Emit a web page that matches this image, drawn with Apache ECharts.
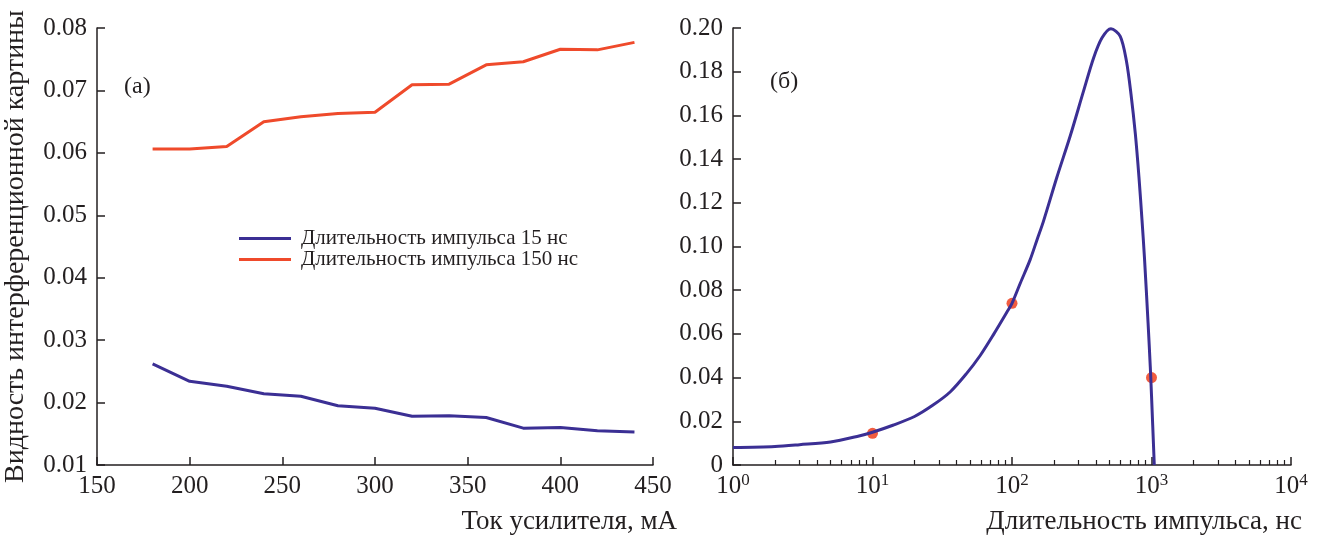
<!DOCTYPE html>
<html>
<head>
<meta charset="utf-8">
<script src="https://cdn.jsdelivr.net/npm/echarts@6/dist/echarts.min.js"></script>
<style>
  html, body { margin: 0; padding: 0; background: #fff; }
  #main { width: 1320px; height: 535px; }
</style>
</head>
<body>
<div id="main"></div>
<script>
// (а) ток усилителя, мА
var currents = [180, 200, 220, 240, 260, 280, 300, 320, 340, 360, 380, 400, 420, 440];
var vis15 = [0.0262, 0.0234, 0.0226, 0.0214, 0.0210, 0.0195, 0.0191, 0.0178, 0.0179, 0.0176, 0.0159, 0.0160, 0.0155, 0.0153];
var vis150 = [0.0606, 0.0606, 0.0610, 0.0650, 0.0658, 0.0663, 0.0665, 0.0709, 0.0710, 0.0741, 0.0746, 0.0766, 0.0765, 0.0777];
var legendNames = ['Длительность импульса 15 нс', 'Длительность импульса 150 нс'];

// (б) длительность импульса, нс
var pulseX = [1, 2, 3, 5, 8, 10, 14, 20, 27, 36, 47, 59, 74, 92, 100, 115, 135, 151, 168, 210, 262, 326, 385, 442, 512, 597, 661, 713, 766, 813, 855, 890, 945, 980, 1000, 1047];
var pulseY = [0.0080, 0.0085, 0.0093, 0.0105, 0.0133, 0.0150, 0.0182, 0.0222, 0.0273, 0.0334, 0.0417, 0.0500, 0.0599, 0.0700, 0.0740, 0.0834, 0.0940, 0.1030, 0.1115, 0.1318, 0.1508, 0.1712, 0.1864, 0.1955, 0.1997, 0.1962, 0.1849, 0.1697, 0.1515, 0.1318, 0.1121, 0.0950, 0.0650, 0.0450, 0.0320, 0];
var measX = [10, 100, 1000];
var measY = [0.0145, 0.0740, 0.0400];

var decadeLabels = ['0', '1', '2', '3', '4'];

var FONT = 'Liberation Serif';
var INK = '#231f20';
var BLUE = '#3b2f94';
var RED = '#ef4a2b';

// мелкие деления логарифмической оси: 2..9 в каждой декаде
var minorTicks = [];
for (var d = 1; d <= 1000; d *= 10) {
    for (var k = 2; k <= 9; k++) minorTicks.push(k * d);
}

function zip(a, b) {
    return a.map(function (v, i) { return [v, b[i]]; });
}

var axisLineStyle = { lineStyle: { color: INK, width: 1.5 } };
var tickStyle = { inside: true, length: 8, lineStyle: { color: INK, width: 1.5 } };
var labelStyle = { color: INK, fontFamily: FONT, fontSize: 25 };
var nameStyle = { color: INK, fontFamily: FONT, fontSize: 27, align: 'right', verticalAlign: 'top', padding: [43, 0, 0, 0] };

var myChart = echarts.init(document.getElementById('main'));
myChart.setOption({
    animation: false,
    textStyle: { fontFamily: FONT, color: INK },
    grid: [
        { left: 97, width: 556, top: 28, bottom: 67 },
        { left: 733, right: 29, top: 28, bottom: 67 }
    ],
    legend: {
        orient: 'vertical',
        left: 234,
        top: 223,
        icon: 'rect',
        itemWidth: 52,
        itemHeight: 3,
        itemGap: 0,
        data: legendNames,
        textStyle: { color: INK, fontFamily: FONT, fontSize: 21, padding: [0, 0, 0, 5] }
    },
    graphic: [
        { type: 'text', left: 124, top: 75, style: { text: '(a)', font: '24px "Liberation Serif"', fill: INK } },
        { type: 'text', left: 770, top: 70, style: { text: '(б)', font: '24px "Liberation Serif"', fill: INK } }
    ],
    xAxis: [
        {
            type: 'value', gridIndex: 0,
            min: 150, max: 450, interval: 50,
            name: 'Ток усилителя, мА',
            nameLocation: 'end', nameGap: 24,
            nameTextStyle: nameStyle,
            axisLine: axisLineStyle,
            axisTick: tickStyle,
            axisLabel: Object.assign({ margin: 9 }, labelStyle),
            splitLine: { show: false }
        },
        {
            type: 'log', gridIndex: 1, logBase: 10,
            min: 1, max: 10000,
            name: 'Длительность импульса, нс',
            nameLocation: 'end', nameGap: 11,
            nameTextStyle: nameStyle,
            axisLine: axisLineStyle,
            axisTick: tickStyle,
            axisLabel: {
                margin: 7,
                formatter: function (v) {
                    return '{b|10}{s|' + decadeLabels[Math.round(Math.log10(v))] + '}';
                },
                rich: {
                    b: { fontFamily: FONT, fontSize: 25, color: INK, lineHeight: 28 },
                    s: { fontFamily: FONT, fontSize: 17, color: INK, lineHeight: 18, verticalAlign: 'top' }
                }
            },
            splitLine: { show: false }
        },
        {
            // только мелкие деления
            type: 'log', gridIndex: 1, logBase: 10, position: 'bottom',
            min: 1, max: 10000,
            axisLine: { show: false },
            axisTick: { inside: true, length: 5, customValues: minorTicks, lineStyle: { color: INK, width: 1.2 } },
            axisLabel: { show: false },
            splitLine: { show: false }
        }
    ],
    yAxis: [
        {
            type: 'value', gridIndex: 0,
            min: 0.01, max: 0.08, interval: 0.01,
            name: 'Видность интерференционной картины',
            nameLocation: 'middle', nameGap: 67,
            nameTextStyle: { color: INK, fontFamily: FONT, fontSize: 28 },
            axisLine: axisLineStyle,
            axisTick: tickStyle,
            axisLabel: Object.assign({ margin: 10, formatter: function (v) { return v.toFixed(2); } }, labelStyle),
            splitLine: { show: false }
        },
        {
            type: 'value', gridIndex: 1,
            min: 0, max: 0.2, interval: 0.02,
            axisLine: axisLineStyle,
            axisTick: tickStyle,
            axisLabel: Object.assign({ margin: 10, formatter: function (v) { return v === 0 ? '0' : v.toFixed(2); } }, labelStyle),
            splitLine: { show: false }
        }
    ],
    series: [
        {
            name: legendNames[0], type: 'line', xAxisIndex: 0, yAxisIndex: 0,
            data: zip(currents, vis15),
            showSymbol: false, symbol: 'none',
            lineStyle: { color: BLUE, width: 3 }, itemStyle: { color: BLUE }
        },
        {
            name: legendNames[1], type: 'line', xAxisIndex: 0, yAxisIndex: 0,
            data: zip(currents, vis150),
            showSymbol: false, symbol: 'none',
            lineStyle: { color: RED, width: 3 }, itemStyle: { color: RED }
        },
        {
            type: 'scatter', xAxisIndex: 1, yAxisIndex: 1,
            data: zip(measX, measY),
            symbolSize: 11,
            itemStyle: { color: RED, opacity: 0.9 }
        },
        {
            type: 'line', xAxisIndex: 1, yAxisIndex: 1,
            data: zip(pulseX, pulseY),
            showSymbol: false, symbol: 'none',
            smooth: 0.3,
            lineStyle: { color: BLUE, width: 3 }
        }
    ]
});
</script>
</body>
</html>
